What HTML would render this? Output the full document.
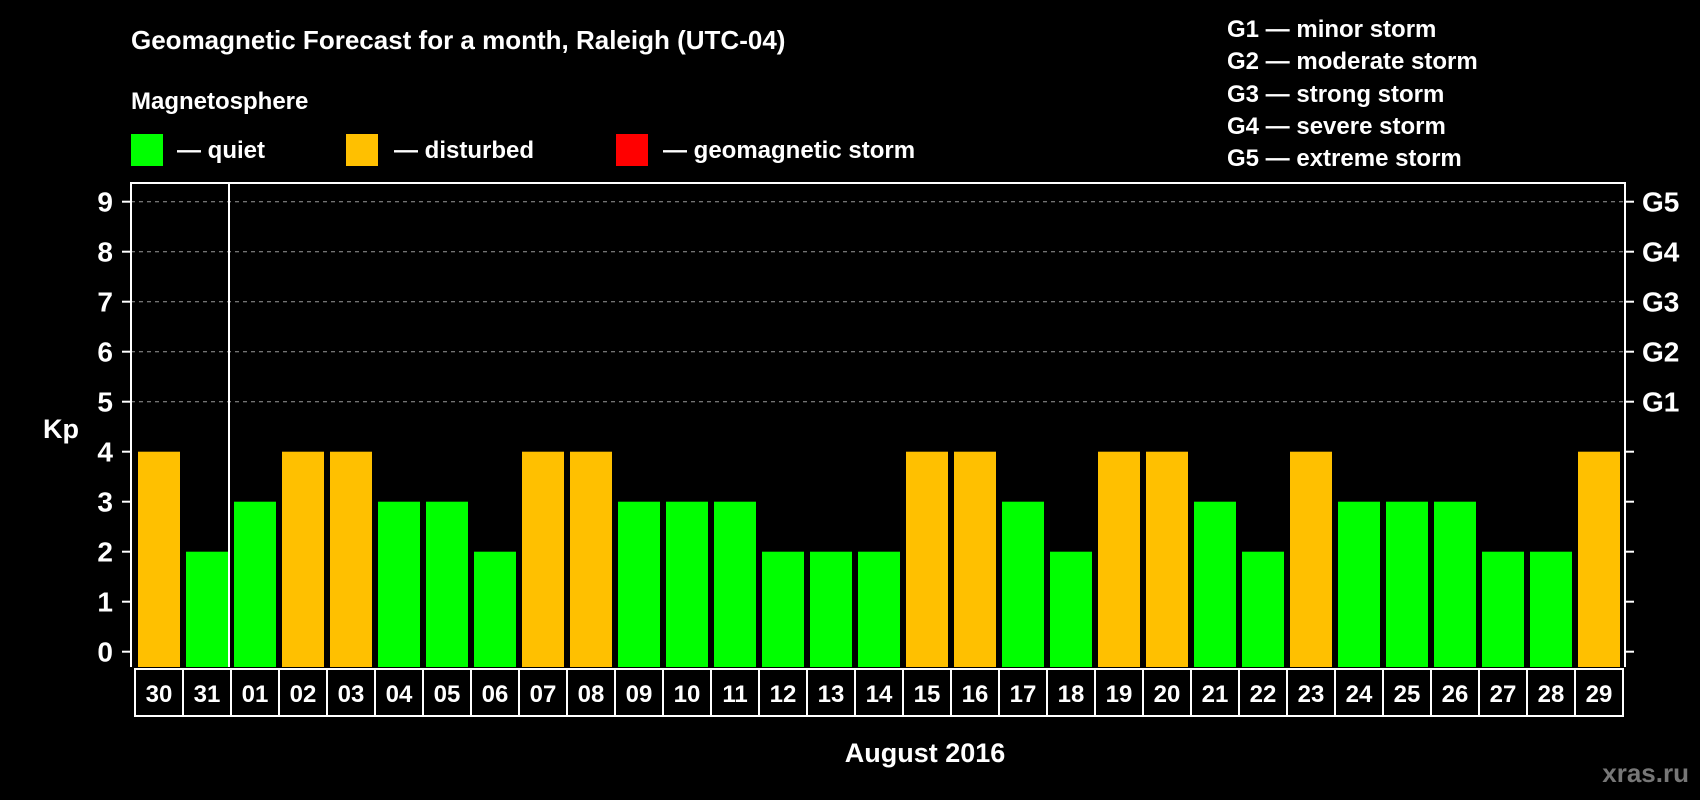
<!DOCTYPE html>
<html><head><meta charset="utf-8"><style>
html,body{margin:0;padding:0;background:#000;}
svg{display:block;font-family:"Liberation Sans",Arial,sans-serif;font-weight:bold;}
</style></head><body>
<svg id="chart" width="1700" height="800" viewBox="0 0 1700 800" xmlns="http://www.w3.org/2000/svg">
<rect width="1700" height="800" fill="#000"/>
<text x="131" y="49" fill="#fff" font-size="26">Geomagnetic Forecast for a month, Raleigh (UTC-04)</text>
<text x="131" y="109" fill="#fff" font-size="24">Magnetosphere</text>
<g><rect x="131" y="134" width="32" height="32" fill="#00ff00"/><text x="177" y="158" fill="#fff" font-size="24">— quiet</text></g>
<g><rect x="346" y="134" width="32" height="32" fill="#ffc000"/><text x="394" y="158" fill="#fff" font-size="24">— disturbed</text></g>
<g><rect x="616" y="134" width="32" height="32" fill="#ff0000"/><text x="663" y="158" fill="#fff" font-size="24">— geomagnetic storm</text></g>
<g fill="#fff" font-size="24">
<text x="1227" y="37">G1 — minor storm</text>
<text x="1227" y="69">G2 — moderate storm</text>
<text x="1227" y="102">G3 — strong storm</text>
<text x="1227" y="134">G4 — severe storm</text>
<text x="1227" y="166">G5 — extreme storm</text>
</g>
<text x="43" y="438" fill="#fff" font-size="27">Kp</text>
<text x="925" y="762" fill="#fff" font-size="27" text-anchor="middle">August 2016</text>
<text x="1689" y="782" fill="#777" font-size="26" text-anchor="end">xras.ru</text>
<g id="plot"></g>
</svg>
<script>
const days = ["30","31","01","02","03","04","05","06","07","08","09","10","11","12","13","14","15","16","17","18","19","20","21","22","23","24","25","26","27","28","29"];
const kp = [4,2,3,4,4,3,3,2,4,4,3,3,3,2,2,2,4,4,3,2,4,4,3,2,4,3,3,3,2,2,4];
const yTicks = [0,1,2,3,4,5,6,7,8,9];
const gLabels = ["G1","G2","G3","G4","G5"];
const NS="http://www.w3.org/2000/svg";
const plot=document.getElementById('plot');
const L=131,R=1625,T=183,B=667,pitch=48;
function y(v){return 651.7-50*v;}
function x(i){return 135+i*pitch;}
function mk(tag,attrs,parent){const e=document.createElementNS(NS,tag);for(const k in attrs)e.setAttribute(k,attrs[k]);(parent||plot).appendChild(e);return e;}
// grid
yTicks.forEach(v=>{
  if(v>=5){const g=mk('line',{x1:L,x2:R,y1:y(v),y2:y(v),stroke:'#999','stroke-width':1,'stroke-dasharray':'4,4'});
  
  }
  const t=mk('line',{x1:L-9,x2:L,y1:y(v),y2:y(v),stroke:'#fff','stroke-width':2});
  
  
  const t2=mk('line',{x1:R,x2:R+9,y1:y(v),y2:y(v),stroke:'#fff','stroke-width':2});
  
  
  const lb=mk('text',{x:L-18,y:y(v)+10,fill:'#fff','font-size':28,'text-anchor':'end'});
  lb.textContent=v;
  
  
});
gLabels.forEach((g,i)=>{
  const t=mk('text',{x:1642,y:y(5+i)+10,fill:'#fff','font-size':28});
  t.textContent=g;
  
  
});
// bars
kp.forEach((v,i)=>{
  const col=v>=5?'#ff0000':(v>=4?'#ffc000':'#00ff00');
  const b=mk('rect',{x:x(i)+3,y:y(v),width:42,height:B-y(v),fill:col});
  
  
});
// plot frame
const fr=mk('path',{d:`M${L},${B} V${T} H${R} V${B}`,fill:'none',stroke:'#fff','stroke-width':2});


const sep=mk('line',{x1:x(2)-2,x2:x(2)-2,y1:T,y2:B,stroke:'#fff','stroke-width':2});


// date cells
days.forEach((d,i)=>{
  const c=mk('rect',{x:x(i),y:669,width:pitch,height:47,fill:'none',stroke:'#fff','stroke-width':2});
  
  
  const t=mk('text',{x:x(i)+pitch/2,y:702,fill:'#fff','font-size':24,'text-anchor':'middle'});
  t.textContent=d;
  
  
});
</script>
</body></html>
